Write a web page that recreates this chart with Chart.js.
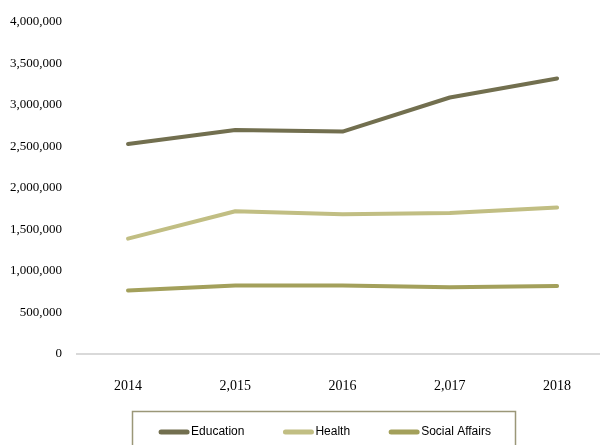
<!DOCTYPE html>
<html>
<head>
<meta charset="utf-8">
<script src="https://cdn.jsdelivr.net/npm/chart.js@4.4.1/dist/chart.umd.min.js"></script>
<style>
  html, body { margin: 0; padding: 0; background: #ffffff; overflow: hidden; }
  #wrap { width: 600px; height: 445px; position: relative; }
</style>
</head>
<body>
<div id="wrap"><canvas id="budgetChart"></canvas></div>
<script>
// data
const years = ["2014", "2,015", "2016", "2,017", "2018"];
const education = [2530000, 2700000, 2680000, 3090000, 3320000];
const health = [1390000, 1720000, 1685000, 1700000, 1765000];
const socialAffairs = [765000, 825000, 825000, 805000, 820000];
const yTicks = [0, 500000, 1000000, 1500000, 2000000, 2500000, 3000000, 3500000, 4000000];

const toPoints = arr => arr.map((v, i) => ({ x: i, y: v }));

// legend drawn in a framed box at the bottom, like the original
const boxLegend = {
    id: 'boxLegend',
    afterDraw(chart) {
        const ctx = chart.ctx;
        ctx.save();
        ctx.strokeStyle = "#9b9778";
        ctx.lineWidth = 1.5;
        ctx.strokeRect(132.5, 411.5, 383, 60);

        ctx.font = "12px 'Liberation Sans', Arial, sans-serif";
        ctx.textBaseline = "middle";
        const swatch = 30, gapText = 2, gapItem = 39;
        const items = chart.data.datasets.map(ds => ({
            label: ds.label,
            color: ds.borderColor,
            w: swatch + gapText + ctx.measureText(ds.label).width
        }));
        const total = items.reduce((s, it) => s + it.w, 0) + gapItem * (items.length - 1);
        let x = 325 - total / 2;
        const y = 432;
        items.forEach(it => {
            ctx.strokeStyle = it.color;
            ctx.lineWidth = 5;
            ctx.lineCap = "round";
            ctx.beginPath();
            ctx.moveTo(x + 2, y);
            ctx.lineTo(x + swatch - 2, y);
            ctx.stroke();
            ctx.fillStyle = "#000000";
            ctx.fillText(it.label, x + swatch + gapText, y);
            x += it.w + gapItem;
        });
        ctx.restore();
    }
};

const ctx = document.getElementById('budgetChart').getContext('2d');

new Chart(ctx, {
    type: 'line',
    data: {
        datasets: [
            {
                label: "Education",
                data: toPoints(education),
                borderColor: "#726f4f",
                borderWidth: 4
            },
            {
                label: "Health",
                data: toPoints(health),
                borderColor: "#c1be83",
                borderWidth: 4
            },
            {
                label: "Social Affairs",
                data: toPoints(socialAffairs),
                borderColor: "#a3a05b",
                borderWidth: 4
            }
        ]
    },
    options: {
        responsive: true,
        maintainAspectRatio: false,
        animation: false,
        layout: { padding: { top: 22, right: 0, bottom: 0, left: 0 } },
        elements: {
            point: { radius: 0, hoverRadius: 0 },
            line: { tension: 0, borderCapStyle: 'round', borderJoinStyle: 'round' }
        },
        plugins: {
            legend: { display: false },
            tooltip: { enabled: false }
        },
        scales: {
            x: {
                type: 'linear',
                min: -0.485,
                max: 4.4,
                afterBuildTicks: s => { s.ticks = years.map((_, i) => ({ value: i })); },
                afterFit: s => { s.height = 91; },
                ticks: {
                    padding: 16,
                    color: "#000000",
                    font: { family: "'Liberation Serif', 'Times New Roman', serif", size: 14 },
                    callback: v => years[v],
                    maxRotation: 0,
                    autoSkip: false
                },
                grid: { display: false },
                border: { display: false }
            },
            y: {
                min: 0,
                max: 4000000,
                afterBuildTicks: s => { s.ticks = yTicks.map(v => ({ value: v })); },
                afterFit: s => { s.width = 76; },
                ticks: {
                    padding: 14,
                    color: "#000000",
                    font: { family: "'Liberation Serif', 'Times New Roman', serif", size: 13 },
                    callback: v => v.toLocaleString('en-US')
                },
                grid: {
                    drawTicks: false,
                    lineWidth: 2,
                    color: c => c.tick && c.tick.value === 0 ? "#d9d9d9" : "rgba(0,0,0,0)"
                },
                border: { display: false }
            }
        }
    },
    plugins: [boxLegend]
});
</script>
</body>
</html>
